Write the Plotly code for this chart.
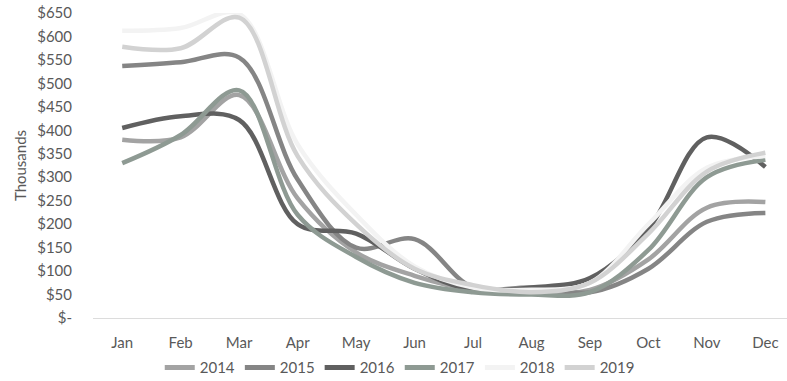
import plotly.graph_objects as go

months = ["Jan", "Feb", "Mar", "Apr", "May", "Jun",
          "Jul", "Aug", "Sep", "Oct", "Nov", "Dec"]

# Monthly totals, in thousands of dollars
sales_2014 = [380, 385, 475, 255, 140, 90, 60, 55, 60, 125, 235, 247]
sales_2015 = [537, 545, 555, 295, 150, 168, 65, 65, 55, 105, 205, 224]
sales_2016 = [405, 430, 422, 200, 180, 105, 60, 65, 85, 190, 385, 322]
sales_2017 = [330, 390, 485, 220, 130, 75, 55, 50, 55, 145, 300, 337]
sales_2018 = [612, 618, 648, 370, 220, 110, 65, 60, 75, 200, 320, 345]
sales_2019 = [578, 575, 640, 345, 200, 105, 70, 55, 75, 180, 312, 352]

years = ["2014", "2015", "2016", "2017", "2018", "2019"]
series = [sales_2014, sales_2015, sales_2016, sales_2017, sales_2018, sales_2019]
colors = ["#a3a3a3", "#858585", "#606060", "#8e9a93", "#f3f3f3", "#d2d2d2"]

y_ticks = list(range(0, 651, 50))
y_tick_text = ["$-" if v == 0 else f"${v}" for v in y_ticks]

fig = go.Figure()
for name, vals, col in zip(years, series, colors):
    fig.add_trace(go.Scatter(
        x=months, y=vals, name=name, mode="lines",
        line=dict(color=col, width=4.5, shape="spline", smoothing=1.0),
        cliponaxis=False,
    ))

font_family = "Lato, 'DejaVu Sans', sans-serif"

fig.update_layout(
    width=787, height=381,
    margin=dict(l=93, r=0, t=13, b=63, autoexpand=False),
    paper_bgcolor="white", plot_bgcolor="white",
    font=dict(family=font_family, size=15, color="#595959"),
    showlegend=True,
    legend=dict(
        orientation="h", x=0.442, xanchor="center",
        yref="container", y=0.035, yanchor="middle",
        font=dict(size=15, color="#595959"),
        itemwidth=30, tracegroupgap=0, itemsizing="constant",
    ),
    xaxis=dict(
        type="category", range=[-0.5, 11.37],
        showgrid=False, showline=True, linecolor="#dcdcdc", linewidth=1,
        ticks="", ticklabelstandoff=11,
        tickfont=dict(size=15, color="#595959"),
        fixedrange=True,
    ),
    yaxis=dict(
        range=[0, 650], tickvals=y_ticks, ticktext=y_tick_text,
        showgrid=False, zeroline=False, showline=False,
        ticks="", ticklabelstandoff=20,
        tickfont=dict(size=15, color="#595959"),
        title=dict(text="Thousands", font=dict(size=15, color="#595959"), standoff=6),
        fixedrange=True,
    ),
)

fig.write_html("out.html")
